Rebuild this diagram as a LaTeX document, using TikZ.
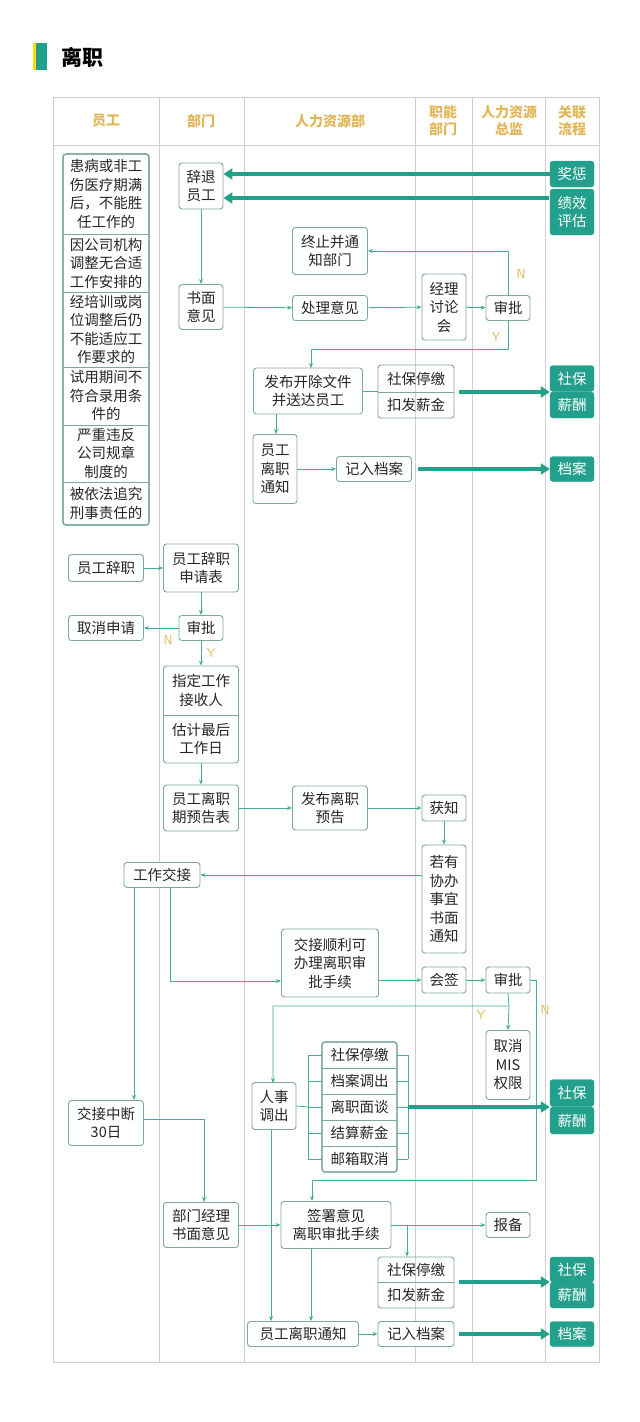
\documentclass[tikz,border=0pt]{standalone}
\usepackage{fontspec}
\setmainfont{Noto Sans CJK SC}
\usetikzlibrary{arrows.meta}
\definecolor{teal1}{HTML}{23A08B}
\definecolor{bord}{HTML}{7FA89A}
\definecolor{gold}{HTML}{E2B75A}
\definecolor{grid}{HTML}{CFCFCF}
\tikzset{
 bx/.style={draw=bord,line width=0.9pt,rounded corners=3pt,fill=white,inner sep=0pt,align=center,font=\fontsize{14.5}{18.5}\selectfont,text=black!85},
 sq/.style={bx,draw=none,fill=none},
 tl/.style={fill=teal1,draw=teal1,rounded corners=3pt,inner sep=0pt,align=center,text=white,font=\fontsize{14.5}{18.5}\selectfont},
 ln/.style={draw=teal1!85,line width=0.8pt},
 ar/.style={ln,-{Stealth[length=5pt,width=4pt]}},
 thk/.style={draw=teal1,line width=4pt,-{Triangle[length=9pt,width=11pt]}},
 lab/.style={text=gold,font=\fontsize{13}{13}\sffamily},
 hd/.style={text=gold,align=center,font=\bfseries\fontsize{14}{17}\selectfont},
 ob/.style={draw=bord,line width=0.9pt,rounded corners=3pt},
 sep/.style={draw=bord,line width=0.9pt},
}
\newcommand\myB[6]{\node[bx,minimum width=#4pt,minimum height=#5pt] (#1) at (#2,#3) {#6};}
\newcommand\myS[6]{\node[sq,minimum width=#4pt,minimum height=#5pt] (#1) at (#2,#3) {#6};}
\newcommand\myT[6]{\node[tl,minimum width=#4pt,minimum height=#5pt] (#1) at (#2,#3) {#6};}
\newcommand\mysep[1]{\draw[sep] (#1.south west) -- (#1.south east);}
\begin{document}
\begin{tikzpicture}[x=1pt,y=-1pt]
\useasboundingbox (0,0) rectangle (640,1422);
\fill[white] (0,0) rectangle (640,1422);
% title
\fill[yellow!80!orange] (33,43) rectangle (36,70);
\fill[teal1] (36,43) rectangle (47,70);
\node[anchor=west,font=\bfseries\fontsize{21}{21}\selectfont] (title) at (58,57) {离职};
% table
\draw[grid,line width=0.8pt] (53,97) rectangle (599,1362);
\draw[grid,line width=0.8pt] (53,145) -- (599,145);
\foreach \x in {159,244,415,472,545} \draw[grid,line width=0.8pt] (\x,97) -- (\x,1362);
\node[hd] (h1) at (106,121) {员工};
\node[hd] (h2) at (201,121) {部门};
\node[hd] (h3) at (330,121) {人力资源部};
\node[hd] (h4) at (443,121) {职能\\部门};
\node[hd] (h5) at (509,121) {人力资源\\总监};
\node[hd] (h6) at (572,121) {关联\\流程};
% left stack
\fill[white] (63,154) rectangle (149,525);
\myS{l1}{106}{194}{86}{80}{患病或非工\\伤医疗期满\\后，不能胜\\任工作的}
\myS{l2}{106}{263}{86}{58}{因公司机构\\调整无合适\\工作安排的}
\myS{l3}{106}{329.5}{86}{75}{经培训或岗\\位调整后仍\\不能适应工\\作要求的}
\myS{l4}{106}{396}{86}{58}{试用期间不\\符合录用条\\件的}
\myS{l5}{106}{453.5}{86}{57}{严重违反\\公司规章\\制度的}
\myS{l6}{106}{503.5}{86}{43}{被依法追究\\刑事责任的}
\foreach \i in {l1,l2,l3,l4,l5} \mysep{\i}
\draw[ob] (63,154) rectangle (149,525);
% top section
\myB{ct}{201}{186}{44}{46}{辞退\\员工}
\myT{jc}{572}{174}{44}{26}{奖惩}
\myT{jx}{572}{212}{44}{46}{绩效\\评估}
\myB{sm}{201}{307}{44}{45}{书面\\意见}
\myB{zz}{330}{251}{75}{47}{终止并通\\知部门}
\myB{cl}{330}{308}{75}{25}{处理意见}
\myB{jl}{444}{307}{44}{66}{经理\\讨论\\会}
\myB{sp1}{508}{308}{44}{25}{审批}
\myB{fb}{308}{391}{109}{46}{发布开除文件\\并送达员工}
\myS{sbA}{416}{378.5}{76}{27}{社保停缴}
\myS{kfA}{416}{405}{76}{26}{扣发薪金}
\mysep{sbA}
\draw[ob] (378,365) rectangle (454,418);
\myT{tzA}{572}{378.5}{44}{26}{社保}
\myT{xcA}{572}{405}{44}{26}{薪酬}
\myB{tz1}{275}{469}{44}{69}{员工\\离职\\通知}
\myB{da1}{374}{469}{75}{25}{记入档案}
\myT{daA}{572}{469}{44}{25}{档案}
\draw[thk] (jc.west) -- (ct.east |- jc.west);
\coordinate (j2) at (549,198);
\draw[thk] (j2) -- (ct.east |- j2);
\draw[ar] (ct) -- (sm);
\draw[ar] (sm) -- (cl);
\draw[ar] (cl) -- (jl);
\draw[ar] (jl) -- (sp1);
\draw[ar] (sp1.north) |- (zz.east);
\node[lab] (n1) at (521,274) {N};
\node[lab] (y1l) at (496,337) {Y};
\coordinate (y1) at (508,349);
\coordinate (fbt) at (311,368);
\draw[ar] (sp1.south) -- (y1) -| (fbt);
\draw[ln] (fb.east) -- (fb.east -| sbA.west);
\coordinate (tA) at (459,392);
\draw[thk] (tA) -- (tA -| tzA.west);
\coordinate (fbb) at (276,414);
\draw[ar] (fbb) -- (fbb |- tz1.north);
\draw[ar] (tz1) -- (da1);
\draw[thk] ([xshift=6pt]da1.east) -- (daA.west);
% resignation
\myB{cz}{106}{568}{75}{27}{员工辞职}
\myB{sq1}{201}{568}{75}{48}{员工辞职\\申请表}
\myB{sp2}{201}{628}{44}{25}{审批}
\myB{qx}{106}{628}{75}{25}{取消申请}
\myS{zd}{201}{690.5}{75}{49}{指定工作\\接收人}
\myS{gj}{201}{739}{75}{48}{估计最后\\工作日}
\mysep{zd}
\draw[ob] (163.5,666) rectangle (238.5,763);
\myB{yg}{201}{808}{75}{46}{员工离职\\期预告表}
\myB{fy}{330}{808}{75}{44}{发布离职\\预告}
\myB{hz}{444}{808}{44}{26}{获知}
\myB{ry}{444}{899}{44}{108}{若有\\协办\\事宜\\书面\\通知}
\myB{gz}{162}{875}{76}{25}{工作交接}
\myB{js}{330}{963}{97}{68}{交接顺利可\\办理离职审\\批手续}
\myB{hq}{444}{980}{44}{26}{会签}
\myB{sp3}{508}{980}{44}{26}{审批}
\draw[ar] (cz) -- (sq1);
\draw[ar] (sq1) -- (sp2);
\draw[ar] (sp2) -- (qx);
\draw[ar] (sp2) -- (zd);
\node[lab] (n2) at (168,640) {N};
\node[lab] (y2) at (211,653) {Y};
\draw[ar] (gj) -- (yg);
\draw[ar] (yg) -- (fy);
\draw[ar] (fy) -- (hz);
\draw[ar] (hz) -- (ry);
\draw[ar] (ry.west |- gz.east) -- (gz.east);
\coordinate (g1) at (170,887);
\coordinate (g2) at (170,981);
\draw[ar] (g1) -- (g2) -- (g2 -| js.west);
\draw[ar] (js.east |- hq.west) -- (hq.west);
\draw[ar] (hq) -- (sp3);
% bottom
\myB{mis}{508}{1065}{44}{69}{取消\\MIS\\权限}
\myB{rs}{274}{1106}{44}{47}{人事\\调出}
\fill[white] (322,1042) rectangle (397,1172);
\myS{f1}{359.5}{1055}{75}{26}{社保停缴}
\myS{f2}{359.5}{1081}{75}{26}{档案调出}
\myS{f3}{359.5}{1107}{75}{26}{离职面谈}
\myS{f4}{359.5}{1133}{75}{26}{结算薪金}
\myS{f5}{359.5}{1159}{75}{26}{邮箱取消}
\foreach \i in {f1,f2,f3,f4} \mysep{\i}
\draw[ob] (322,1042) rectangle (397,1172);
\myT{sbB}{572}{1093}{44}{27}{社保}
\myT{xcB}{572}{1120.5}{44}{27}{薪酬}
\myB{jd}{106}{1123}{75}{45}{交接中断\\30日}
\myB{bm}{201}{1225}{75}{45}{部门经理\\书面意见}
\myB{qs}{336}{1225}{110}{47}{签署意见\\离职审批手续}
\myB{bb}{508}{1225}{44}{25}{报备}
\myS{sbC}{416}{1269.5}{76}{25}{社保停缴}
\myS{kfC}{416}{1295}{76}{26}{扣发薪金}
\mysep{sbC}
\draw[ob] (378,1257) rectangle (454,1308);
\myT{tzC}{572}{1269.5}{44}{25}{社保}
\myT{xcC}{572}{1295}{44}{26}{薪酬}
\myB{tz2}{303}{1334}{111}{25}{员工离职通知}
\myB{da2}{416}{1334}{76}{25}{记入档案}
\myT{daC}{572}{1334}{44}{25}{档案}
% connectors bottom
\coordinate (g3) at (134,887);
\draw[ar] (g3) -- (g3 |- jd.north);
\coordinate (s3) at (509,1006);
\coordinate (rsn) at (273,1083);
\draw[ar] (sp3.south) -- (s3) -| (rsn);
\draw[ar] (s3) -- (mis.north);
\node[lab] (y3) at (481,1015) {Y};
\node[lab] (n3) at (545,1010) {N};
\coordinate (nr) at (536,980);
\coordinate (nb) at (536,1180);
\coordinate (qst) at (312,1201);
\draw[ar] (sp3.east) -- (nr) -- (nb) -| (qst);
\coordinate (bl) at (308,1107);
\coordinate (br) at (408,1107);
\draw[ln] (rs.east) -- (bl);
\draw[ln] (308,1055) -- (308,1159);
\draw[ln] (408,1055) -- (408,1159);
\foreach \i in {f1,f2,f3,f4,f5} {\draw[ln] (\i.west) -- (\i.west -| bl); \draw[ln] (\i.east) -- (\i.east -| br);}
\draw[thk] (br) -- (br -| sbB.west);
\coordinate (jd1) at (144,1119);
\coordinate (jd2) at (204,1119);
\draw[ar] (jd1) -- (jd2) -- (jd2 |- bm.north);
\draw[ar] (bm) -- (qs);
\draw[ar] (qs) -- (bb);
\coordinate (qb) at (407,1225);
\draw[ar] (qb) -- (qb |- sbC.north);
\coordinate (tC) at (459,1282);
\draw[thk] (tC) -- (tC -| tzC.west);
\coordinate (r1) at (271,1130);
\draw[ar] (r1) -- (r1 |- tz2.north);
\coordinate (q1) at (311,1248);
\draw[ar] (q1) -- (q1 |- tz2.north);
\draw[ar] (tz2) -- (da2);
\draw[thk] ([xshift=5pt]da2.east) -- (daC.west);
\end{tikzpicture}
\end{document}
